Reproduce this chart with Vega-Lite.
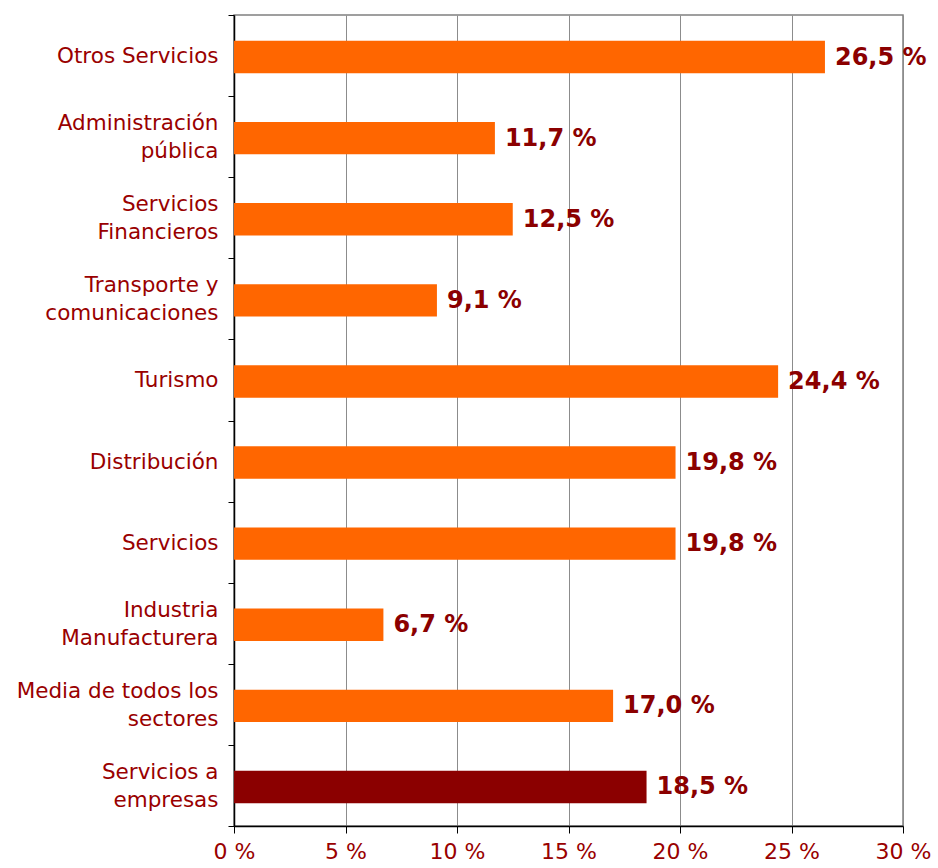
{
  "$schema": "https://vega.github.io/schema/vega-lite/v6.json",
  "width": 669,
  "height": 811,
  "autosize": {"type": "none"},
  "padding": {"left": 234, "top": 15, "right": 35, "bottom": 42},
  "background": "white",
  "config": {
    "view": {"stroke": "#808080", "strokeWidth": 1.5},
    "font": "DejaVu Sans"
  },
  "data": {
    "values": [
      {"sector": "Otros Servicios", "valor": 26.5, "etiqueta": "26,5 %", "grupo": "sector"},
      {"sector": "Administración|pública", "valor": 11.7, "etiqueta": "11,7 %", "grupo": "sector"},
      {"sector": "Servicios |Financieros", "valor": 12.5, "etiqueta": "12,5 %", "grupo": "sector"},
      {"sector": "Transporte y |comunicaciones", "valor": 9.1, "etiqueta": "9,1 %", "grupo": "sector"},
      {"sector": "Turismo", "valor": 24.4, "etiqueta": "24,4 %", "grupo": "sector"},
      {"sector": "Distribución", "valor": 19.8, "etiqueta": "19,8 %", "grupo": "sector"},
      {"sector": "Servicios", "valor": 19.8, "etiqueta": "19,8 %", "grupo": "sector"},
      {"sector": "Industria |Manufacturera", "valor": 6.7, "etiqueta": "6,7 %", "grupo": "sector"},
      {"sector": "Media de todos los|sectores", "valor": 17.0, "etiqueta": "17,0 %", "grupo": "sector"},
      {"sector": "Servicios a |empresas ", "valor": 18.5, "etiqueta": "18,5 %", "grupo": "empresas"}
    ]
  },
  "encoding": {
    "y": {
      "field": "sector",
      "type": "nominal",
      "sort": null,
      "scale": {"paddingInner": 0, "paddingOuter": 0},
      "axis": {
        "title": null,
        "labelExpr": "split(datum.label, '|')",
        "labelFont": "DejaVu Sans",
        "labelFontSize": 21.5,
        "labelLineHeight": 28,
        "labelColor": "#990000",
        "labelPadding": 10,
        "labelLimit": 300,
        "labelOffset": {"expr": "indexof(datum.label, '|') >= 0 ? -13 : 1"},
        "tickBand": "extent",
        "tickColor": "#000000",
        "tickSize": 6,
        "domainColor": "#000000",
        "domainWidth": 1.5,
        "grid": false
      }
    },
    "x": {
      "field": "valor",
      "type": "quantitative",
      "scale": {"domain": [0, 30], "nice": false},
      "axis": {
        "title": null,
        "values": [0, 5, 10, 15, 20, 25, 30],
        "labelExpr": "datum.value + ' %'",
        "labelFont": "DejaVu Sans",
        "labelFontSize": 22,
        "labelColor": "#990000",
        "labelPadding": 8,
        "labelFlush": false,
        "labelOverlap": false,
        "tickColor": "#000000",
        "tickSize": 7,
        "domainColor": "#000000",
        "domainWidth": 1.5,
        "grid": true,
        "gridColor": "#8c8c8c",
        "gridWidth": 1
      }
    }
  },
  "layer": [
    {
      "mark": {"type": "bar", "height": {"band": 0.4}, "yOffset": 1.5},
      "encoding": {
        "color": {
          "field": "grupo",
          "type": "nominal",
          "scale": {"domain": ["sector", "empresas"], "range": ["#FF6600", "#8B0000"]},
          "legend": null
        }
      }
    },
    {
      "mark": {
        "type": "text",
        "align": "left",
        "baseline": "middle",
        "dx": 10,
        "dy": 2,
        "font": "DejaVu Sans",
        "fontSize": 24,
        "fontWeight": "bold",
        "color": "#8B0000"
      },
      "encoding": {
        "text": {"field": "etiqueta", "type": "nominal"}
      }
    }
  ]
}
